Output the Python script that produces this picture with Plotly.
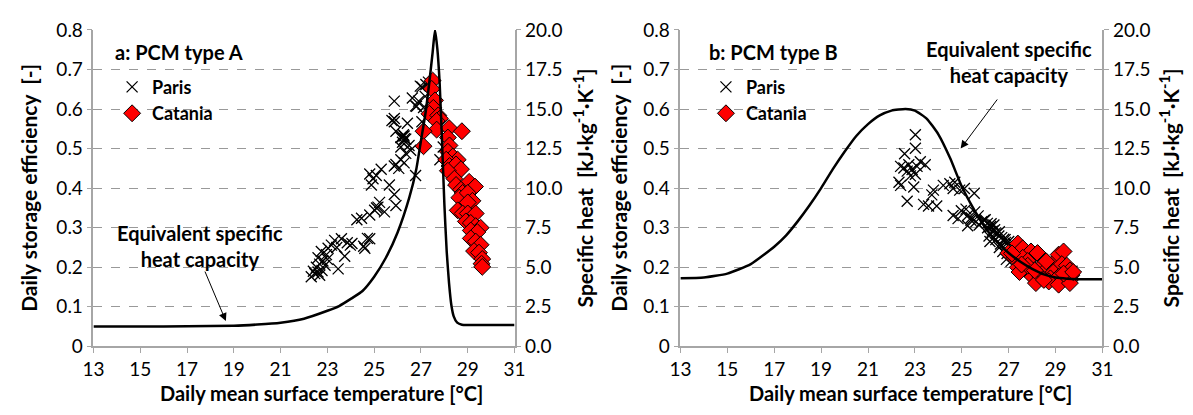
import plotly.graph_objects as go

W, H = 1193, 415
FONT = "Lato"

temp_ticks = [13, 15, 17, 19, 21, 23, 25, 27, 29, 31]
eff_ticks = [0, 0.1, 0.2, 0.3, 0.4, 0.5, 0.6, 0.7, 0.8]
eff_labels = ["0", "0.1", "0.2", "0.3", "0.4", "0.5", "0.6", "0.7", "0.8"]
cp_ticks = [0, 2.5, 5, 7.5, 10, 12.5, 15, 17.5, 20]

# ---- Panel a: PCM type A ----
curveA_T = [13, 15, 17, 19, 20, 21, 22, 23, 23.5, 24, 24.5, 25, 25.5, 26, 26.5, 26.8, 27.0,
            27.2, 27.35, 27.5, 27.6, 27.7, 27.8, 27.9, 28.0, 28.1, 28.2, 28.3, 28.4, 28.55,
            28.75, 29, 31]
curveA_cp = [1.25, 1.25, 1.27, 1.30, 1.38, 1.50, 1.75, 2.25, 2.55, 3.0, 3.5, 4.4, 5.6, 7.2,
             9.4, 11.2, 13.0, 14.8, 16.6, 18.6, 20.0, 18.8, 16.6, 13.0, 9.0, 6.0, 4.0, 2.6,
             1.9, 1.5, 1.37, 1.35, 1.35]

parisA_T = [22.31, 22.46, 22.6, 22.67, 22.77, 22.53, 22.67, 22.81, 22.6, 22.96, 23.03, 23.17,
            22.74, 23.31, 23.6, 23.74, 23.46, 22.9, 23.0, 22.4, 23.4, 23.98, 24.05, 24.6,
            24.81, 24.26, 24.46, 24.81, 25.02, 25.16, 25.23, 25.44, 25.93, 25.86, 25.65,
            24.88, 24.81, 24.95, 25.3, 25.09, 25.86, 25.93, 26.14, 26.28, 26.35, 26.56, 26.14,
            26.77, 25.86, 25.86, 25.86, 25.93, 26.14, 26.28, 26.35, 26.42, 26.21, 26.49,
            26.63, 26.77, 26.9, 27.04, 27.11, 27.18, 27.04, 27.32, 27.81, 27.95, 26.2, 26.3,
            26.25, 25.76, 26.81, 26.97, 27.21, 24.55, 24.71, 23.85, 25.1, 26.05]
parisA_eff = [0.176, 0.184, 0.188, 0.18, 0.192, 0.2, 0.208, 0.216, 0.224, 0.232, 0.248, 0.256,
              0.24, 0.268, 0.272, 0.228, 0.196, 0.205, 0.22, 0.19, 0.25, 0.256, 0.26, 0.248,
              0.272, 0.32, 0.324, 0.332, 0.344, 0.352, 0.364, 0.34, 0.356, 0.384, 0.408,
              0.408, 0.436, 0.424, 0.448, 0.432, 0.456, 0.46, 0.472, 0.464, 0.488, 0.496, 0.504,
              0.432, 0.576, 0.568, 0.62, 0.544, 0.528, 0.532, 0.524, 0.564, 0.516, 0.508,
              0.628, 0.608, 0.62, 0.656, 0.604, 0.632, 0.568, 0.668, 0.472, 0.504, 0.53, 0.525,
              0.535, 0.571, 0.607, 0.658, 0.662, 0.253, 0.273, 0.262, 0.35, 0.45]

cataniaA_T = [27.5, 27.46, 27.6, 27.53, 27.36, 27.74, 27.81, 27.67, 27.67, 27.11, 27.11, 28.2,
              28.75, 28.15, 28.22, 28.15, 28.36, 28.57, 28.08, 28.22, 28.5, 28.71, 28.15, 28.43,
              29.06, 29.31, 28.5, 28.71, 28.78, 28.64, 29.0, 29.2, 29.0, 28.57, 28.78, 29.0,
              29.34, 28.92, 29.13, 29.34, 29.55, 29.13, 29.41, 29.13, 29.34, 29.55, 29.27,
              29.48, 29.62, 29.59, 29.62]
cataniaA_eff = [0.672, 0.651, 0.622, 0.603, 0.588, 0.584, 0.576, 0.57, 0.548, 0.544, 0.506,
                0.552, 0.544, 0.528, 0.508, 0.492, 0.48, 0.472, 0.472, 0.456, 0.46, 0.448,
                0.444, 0.424, 0.416, 0.404, 0.408, 0.396, 0.388, 0.376, 0.388, 0.368, 0.364,
                0.344, 0.336, 0.336, 0.336, 0.316, 0.312, 0.304, 0.3, 0.293, 0.289, 0.273,
                0.265, 0.257, 0.241, 0.237, 0.221, 0.209, 0.201]

# ---- Panel b: PCM type B ----
curveB_T = [13, 14, 15, 16, 17, 17.5, 18, 18.5, 19, 19.5, 20, 20.5, 21, 21.5, 22, 22.6, 23.0,
            23.5, 24.0, 24.5, 25.0, 25.5, 26.0, 26.5, 27.0, 27.5, 28.0, 28.5, 29.0, 29.5, 30,
            31]
curveB_cp = [4.3, 4.35, 4.6, 5.2, 6.3, 7.0, 7.9, 8.9, 10.0, 11.2, 12.3, 13.3, 14.05, 14.6,
             14.9, 15.0, 14.9, 14.4, 13.4, 11.9, 10.1, 8.7, 7.5, 6.6, 5.9, 5.35, 4.9, 4.55,
             4.35, 4.28, 4.25, 4.25]

parisB_T = [23.02, 23.02, 22.56, 22.39, 22.53, 22.74, 22.67, 22.88, 23.09, 23.23, 23.44, 23.02,
            22.81, 22.32, 22.39, 22.95, 22.67, 23.79, 23.72, 24.21, 24.49, 24.7, 24.63, 24.91,
            25.11, 25.53, 23.37, 23.58, 23.93, 24.63, 24.84, 24.98, 25.18, 25.25, 25.39, 25.6,
            25.74, 25.95, 26.09, 26.23, 26.37, 26.3, 26.16, 26.44, 26.58, 26.79, 26.86, 27.0,
            26.65, 26.93, 27.14, 25.7, 25.85, 26.0, 26.1, 26.25, 26.4, 26.5, 26.6, 26.7, 26.85,
            27.0, 27.05, 27.2, 27.3, 27.45, 27.6, 27.8, 28.0, 28.3, 28.6, 28.9, 29.2, 29.5,
            29.7, 26.2, 26.45, 26.6, 26.75, 26.9, 27.1, 25.4, 25.55, 25.25]
parisB_eff = [0.535, 0.501, 0.487, 0.455, 0.451, 0.459, 0.443, 0.447, 0.455, 0.467, 0.459,
              0.435, 0.431, 0.415, 0.407, 0.403, 0.367, 0.395, 0.383, 0.407, 0.411, 0.415,
              0.399, 0.395, 0.399, 0.387, 0.359, 0.355, 0.355, 0.331, 0.323, 0.343, 0.347,
              0.331, 0.319, 0.315, 0.307, 0.319, 0.311, 0.303, 0.307, 0.291, 0.279, 0.287,
              0.279, 0.271, 0.263, 0.255, 0.259, 0.235, 0.247, 0.33, 0.315, 0.32, 0.3, 0.31,
              0.295, 0.285, 0.29, 0.275, 0.27, 0.265, 0.25, 0.26, 0.24, 0.245, 0.23, 0.235,
              0.22, 0.21, 0.2, 0.19, 0.185, 0.18, 0.19, 0.265, 0.27, 0.25, 0.24, 0.22, 0.215,
              0.325, 0.34, 0.305]

cataniaB_T = [27.39, 27.6, 26.98, 27.95, 28.23, 27.25, 27.6, 27.81, 28.57, 28.92, 29.13, 29.34,
              27.39, 27.67, 28.09, 28.36, 28.64, 28.92, 29.27, 29.48, 29.61, 29.68, 28.02,
              28.36, 28.78, 29.13, 29.61, 28.16, 28.71, 29.13, 29.61, 28.5, 29.34, 29.75, 27.46,
              27.81, 27.14, 27.55, 28.6, 28.11]
cataniaB_eff = [0.26, 0.248, 0.236, 0.24, 0.236, 0.224, 0.224, 0.216, 0.216, 0.212, 0.232,
                0.24, 0.2, 0.196, 0.192, 0.2, 0.196, 0.188, 0.208, 0.204, 0.192, 0.18, 0.176,
                0.176, 0.172, 0.176, 0.168, 0.16, 0.164, 0.156, 0.16, 0.168, 0.184, 0.188,
                0.188, 0.204, 0.235, 0.207, 0.215, 0.192]

# ---- layout geometry (pixels) ----
PANELS = [
    dict(x0=84, x1=513),
    dict(x0=682, x1=1112),
]
Y_TOP, Y_BOT = 19, 354


def px(x):
    return x / W


def py(y):
    return 1 - y / H


cross = dict(symbol="x-thin", size=11, color="black", line=dict(color="black", width=1.3))
diamond = dict(symbol="diamond", size=13, color="#ff0000", line=dict(color="black", width=1))

fig = go.Figure()

data = [
    (curveA_T, curveA_cp, parisA_T, parisA_eff, cataniaA_T, cataniaA_eff),
    (curveB_T, curveB_cp, parisB_T, parisB_eff, cataniaB_T, cataniaB_eff),
]

for i, (cT, cC, pT, pE, kT, kE) in enumerate(data):
    xa = "x" if i == 0 else "x2"
    ya = "y" if i == 0 else "y3"
    ya2 = "y2" if i == 0 else "y4"
    lg = "legend" if i == 0 else "legend2"
    fig.add_trace(go.Scatter(x=pT, y=pE, xaxis=xa, yaxis=ya, mode="markers", marker=cross,
                             name="Paris", legend=lg))
    fig.add_trace(go.Scatter(x=kT, y=kE, xaxis=xa, yaxis=ya, mode="markers", marker=diamond,
                             name="Catania", legend=lg))
    fig.add_trace(go.Scatter(x=cT, y=cC, xaxis=xa, yaxis=ya2, mode="lines",
                             line=dict(color="black", width=2.5, shape="spline", smoothing=0.5),
                             showlegend=False, hoverinfo="skip"))

axis_grey = "#a6a6a6"
tickfont = dict(family=FONT, size=19, color="black")

common_x = dict(range=[13, 31], tickvals=temp_ticks, ticks="outside", ticklen=5,
                tickcolor=axis_grey, showline=True, linecolor=axis_grey, linewidth=1.5,
                showgrid=False, zeroline=False, tickfont=tickfont, ticklabelstandoff=0)
common_y = dict(range=[0, 0.8], tickvals=eff_ticks, ticktext=eff_labels, ticks="outside",
                ticklen=5, tickcolor=axis_grey, showline=True, linecolor=axis_grey,
                linewidth=1.5, showgrid=True, gridcolor="#999999", griddash="dash",
                gridwidth=1.2, zeroline=False, tickfont=tickfont)
common_y2 = dict(range=[0, 20], tickvals=cp_ticks, tickformat=".1f", ticks="outside",
                 ticklen=5, tickcolor=axis_grey, showline=True, linecolor=axis_grey,
                 linewidth=1.5, showgrid=False, zeroline=False, side="right",
                 tickfont=tickfont)

legfont = dict(family=FONT, size=18, color="black", weight="bold")
ydom = [py(Y_BOT), py(Y_TOP)]
fig.update_layout(
    width=W, height=H, margin=dict(l=0, r=0, t=0, b=0),
    paper_bgcolor="white", plot_bgcolor="white",
    font=dict(family=FONT, color="black"),
    xaxis=dict(domain=[px(PANELS[0]["x0"]), px(PANELS[0]["x1"])], anchor="y", **common_x),
    yaxis=dict(domain=ydom, anchor="x", **common_y),
    yaxis2=dict(overlaying="y", anchor="x", **common_y2),
    xaxis2=dict(domain=[px(PANELS[1]["x0"]), px(PANELS[1]["x1"])], anchor="y3", **common_x),
    yaxis3=dict(domain=ydom, anchor="x2", **common_y),
    yaxis4=dict(overlaying="y3", anchor="x2", **common_y2),
    legend=dict(x=px(103), y=py(60), xanchor="left", yanchor="top",
                bgcolor="rgba(0,0,0,0)", itemwidth=30, tracegroupgap=0, font=legfont),
    legend2=dict(x=px(708), y=py(60), xanchor="left", yanchor="top",
                 bgcolor="rgba(0,0,0,0)", itemwidth=30, tracegroupgap=0, font=legfont),
    showlegend=True,
)

title_font = dict(family=FONT, size=21, color="black", weight="bold")
xtitle_font = dict(family=FONT, size=20, color="black", weight="bold")
text_font = dict(family=FONT, size=20, color="black", weight="bold")
ann = []
# axis titles
for p, xl, xr, xt in [(PANELS[0], 17, 583, 316), (PANELS[1], 619, 1180, 916)]:
    ann.append(dict(x=px(xl), y=py((Y_TOP + Y_BOT) / 2), xref="paper", yref="paper",
                    text="Daily storage efficiency  [-]", textangle=-90, showarrow=False,
                    font=title_font, xanchor="center", yanchor="middle"))
    ann.append(dict(x=px(xr), y=py((Y_TOP + Y_BOT) / 2), xref="paper", yref="paper",
                    text="Specific heat  [kJ·kg<sup>-1</sup>·K<sup>-1</sup>]", textangle=-90,
                    showarrow=False, font=title_font, xanchor="center", yanchor="middle"))
    ann.append(dict(x=px(xt), y=py(403), xref="paper", yref="paper",
                    text="Daily mean surface temperature [°C]", showarrow=False,
                    font=xtitle_font, xanchor="center", yanchor="middle", borderpad=0))
# panel labels
ann.append(dict(x=px(171), y=py(42), xref="paper", yref="paper", text="a: PCM type A",
                showarrow=False, font=text_font, xanchor="center", yanchor="middle"))
ann.append(dict(x=px(777), y=py(42), xref="paper", yref="paper", text="b: PCM type B",
                showarrow=False, font=text_font, xanchor="center", yanchor="middle"))
# curve labels
ann.append(dict(x=px(193), y=py(248), xref="paper", yref="paper",
                text="Equivalent specific<br>heat capacity", showarrow=False, font=text_font,
                xanchor="center", yanchor="middle"))
ann.append(dict(x=px(1017), y=py(53), xref="paper", yref="paper",
                text="Equivalent specific<br>heat capacity", showarrow=False, font=text_font,
                xanchor="center", yanchor="middle"))
# arrows (data coordinates)
ann.append(dict(x=18.66, y=0.064, ax=17.74, ay=0.193, xref="x", yref="y", axref="x",
                ayref="y", text="", showarrow=True, arrowhead=2, arrowsize=1.6,
                arrowwidth=1, arrowcolor="black"))
ann.append(dict(x=24.95, y=0.5, ax=26.56, ay=0.628, xref="x2", yref="y3", axref="x2",
                ayref="y3", text="", showarrow=True, arrowhead=2, arrowsize=1.6,
                arrowwidth=1, arrowcolor="black"))
fig.update_layout(annotations=ann)

fig.write_html("out.html")
